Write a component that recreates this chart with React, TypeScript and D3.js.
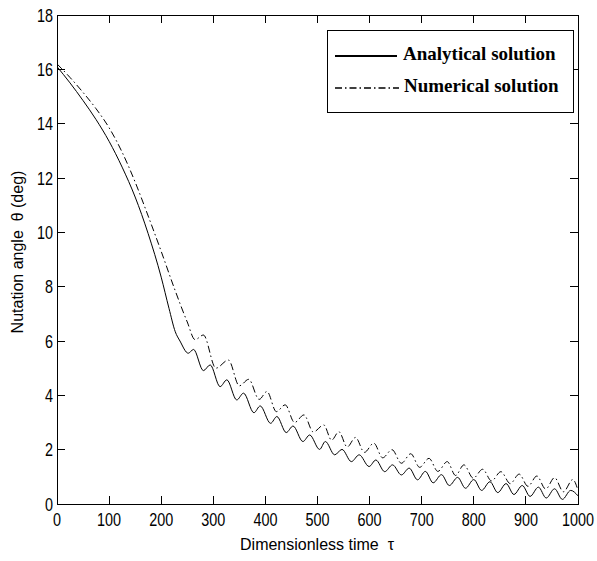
import React from "react";
import * as d3 from "d3";

const xTicks = [0, 100, 200, 300, 400, 500, 600, 700, 800, 900, 1000];
const yTicks = [0, 2, 4, 6, 8, 10, 12, 14, 16, 18];

const analyticalTau = [0, 25, 50, 75, 100, 125, 150, 175, 200, 215, 227, 236, 252, 262, 281, 294, 313, 326, 345, 358, 378, 390, 410, 422, 440, 453, 472, 485, 504, 515, 533, 547, 565, 580, 599, 612, 629, 644, 661, 676, 692, 707, 722, 738, 753, 769, 784, 800, 815, 831, 846, 862, 877, 893, 908, 924, 939, 955, 970, 986, 1000];
const analyticalTheta = [16.1, 15.5, 14.85, 14.15, 13.35, 12.4, 11.3, 9.95, 8.35, 7.2, 6.34, 6.0, 5.55, 5.69, 4.91, 5.12, 4.32, 4.57, 3.83, 4.08, 3.36, 3.61, 2.97, 3.22, 2.63, 2.87, 2.3, 2.54, 2.01, 2.3, 1.81, 2.01, 1.56, 1.81, 1.38, 1.62, 1.19, 1.44, 1.07, 1.32, 0.89, 1.2, 0.78, 1.08, 0.68, 0.98, 0.58, 0.9, 0.5, 0.82, 0.42, 0.75, 0.35, 0.68, 0.28, 0.62, 0.22, 0.56, 0.17, 0.5, 0.3];

const numericalTau = [0, 25, 50, 75, 100, 125, 150, 175, 200, 225, 250, 265, 281, 305, 329, 350, 368, 388, 403, 421, 438, 456, 474, 492, 512, 527, 541, 557, 573, 590, 608, 625, 643, 661, 679, 696, 714, 731, 749, 765, 781, 799, 817, 834, 852, 870, 887, 904, 921, 938, 955, 972, 990, 1000];
const numericalTheta = [16.2, 15.7, 15.15, 14.55, 13.85, 12.95, 11.85, 10.6, 9.3, 7.95, 6.7, 6.05, 6.22, 5.0, 5.3, 4.35, 4.59, 3.85, 4.14, 3.4, 3.65, 3.0, 3.28, 2.65, 2.91, 2.35, 2.66, 2.1, 2.45, 1.9, 2.24, 1.7, 2.0, 1.5, 1.85, 1.35, 1.68, 1.2, 1.56, 1.05, 1.44, 0.95, 1.28, 0.85, 1.19, 0.75, 1.1, 0.65, 1.03, 0.55, 0.97, 0.45, 0.9, 0.5];

const legendLabels = ["Analytical solution", "Numerical solution"];

const W = 597;
const H = 561;
const L = 57, R = 578, T = 15, B = 504;
const TICK = 8;
const tickFont = "'Liberation Sans', Arial, sans-serif";
const SX = 0.8;

export default function App() {
  const x = d3.scaleLinear().domain([0, 1000]).range([L, R]);
  const y = d3.scaleLinear().domain([0, 18]).range([B, T]);
  const line = d3
    .line<[number, number]>()
    .x((d) => x(d[0]))
    .y((d) => y(d[1]))
    .curve(d3.curveMonotoneX);
  const aPts = analyticalTau.map((t, i) => [t, analyticalTheta[i]] as [number, number]);
  const nPts = numericalTau.map((t, i) => [t, numericalTheta[i]] as [number, number]);

  return (
    <div style={{ position: "absolute", left: 0, top: 0, width: W, height: H, background: "#fff" }}>
      <svg width={W} height={H} style={{ display: "block" }}>
        <rect x={0} y={0} width={W} height={H} fill="#fff" />
        <defs>
          <clipPath id="plotclip">
            <rect x={L} y={T} width={R - L} height={B - T} />
          </clipPath>
        </defs>
        <g clipPath="url(#plotclip)">
          <path d={line(aPts) || ""} fill="none" stroke="#000" strokeWidth={1} />
          <path d={line(nPts) || ""} fill="none" stroke="#000" strokeWidth={1} strokeDasharray="7,3,1.5,3" />
        </g>
        <rect x={L} y={T} width={R - L} height={B - T} fill="none" stroke="#000" strokeWidth={1} shapeRendering="crispEdges" />
        {xTicks.map((t) => (
          <g key={"x" + t} shapeRendering="crispEdges">
            <line x1={x(t)} x2={x(t)} y1={B} y2={B - TICK} stroke="#000" />
            <line x1={x(t)} x2={x(t)} y1={T} y2={T + TICK} stroke="#000" />
            <text
              transform={`translate(${x(t)},526) scale(${SX},1)`}
              textAnchor="middle"
              fontFamily={tickFont}
              fontSize={18}
              fill="#000"
            >
              {t}
            </text>
          </g>
        ))}
        {yTicks.map((t) => (
          <g key={"y" + t} shapeRendering="crispEdges">
            <line x1={L} x2={L + TICK} y1={y(t)} y2={y(t)} stroke="#000" />
            <line x1={R} x2={R - TICK} y1={y(t)} y2={y(t)} stroke="#000" />
            <text
              transform={`translate(53,${y(t) + 6.5}) scale(${SX},1)`}
              textAnchor="end"
              fontFamily={tickFont}
              fontSize={18}
              fill="#000"
            >
              {t}
            </text>
          </g>
        ))}
        <text
          x={317}
          y={550}
          textAnchor="middle"
          fontFamily="'Liberation Sans', Arial, sans-serif"
          fontSize={16}
          fill="#000"
          style={{ whiteSpace: "pre" }}
        >
          {"Dimensionless time  τ"}
        </text>
        <text
          transform="translate(23,252) rotate(-90)"
          textAnchor="middle"
          fontFamily="'Liberation Sans', Arial, sans-serif"
          fontSize={16}
          fill="#000"
          style={{ whiteSpace: "pre" }}
        >
          {"Nutation angle  θ (deg)"}
        </text>
        <rect x={327} y={30} width={246} height={82} fill="#fff" stroke="#000" strokeWidth={1} shapeRendering="crispEdges" />
        <line x1={335} x2={397} y1={56} y2={56} stroke="#000" strokeWidth={2} />
        <line x1={335} x2={399} y1={88} y2={88} stroke="#000" strokeWidth={1.5} strokeDasharray="7,3,1.5,3" />
        <text x={403} y={60} fontFamily="'Liberation Serif', 'Times New Roman', serif" fontWeight="bold" fontSize={19} fill="#000">
          {legendLabels[0]}
        </text>
        <text x={404} y={92} fontFamily="'Liberation Serif', 'Times New Roman', serif" fontWeight="bold" fontSize={19} fill="#000">
          {legendLabels[1]}
        </text>
      </svg>
    </div>
  );
}
